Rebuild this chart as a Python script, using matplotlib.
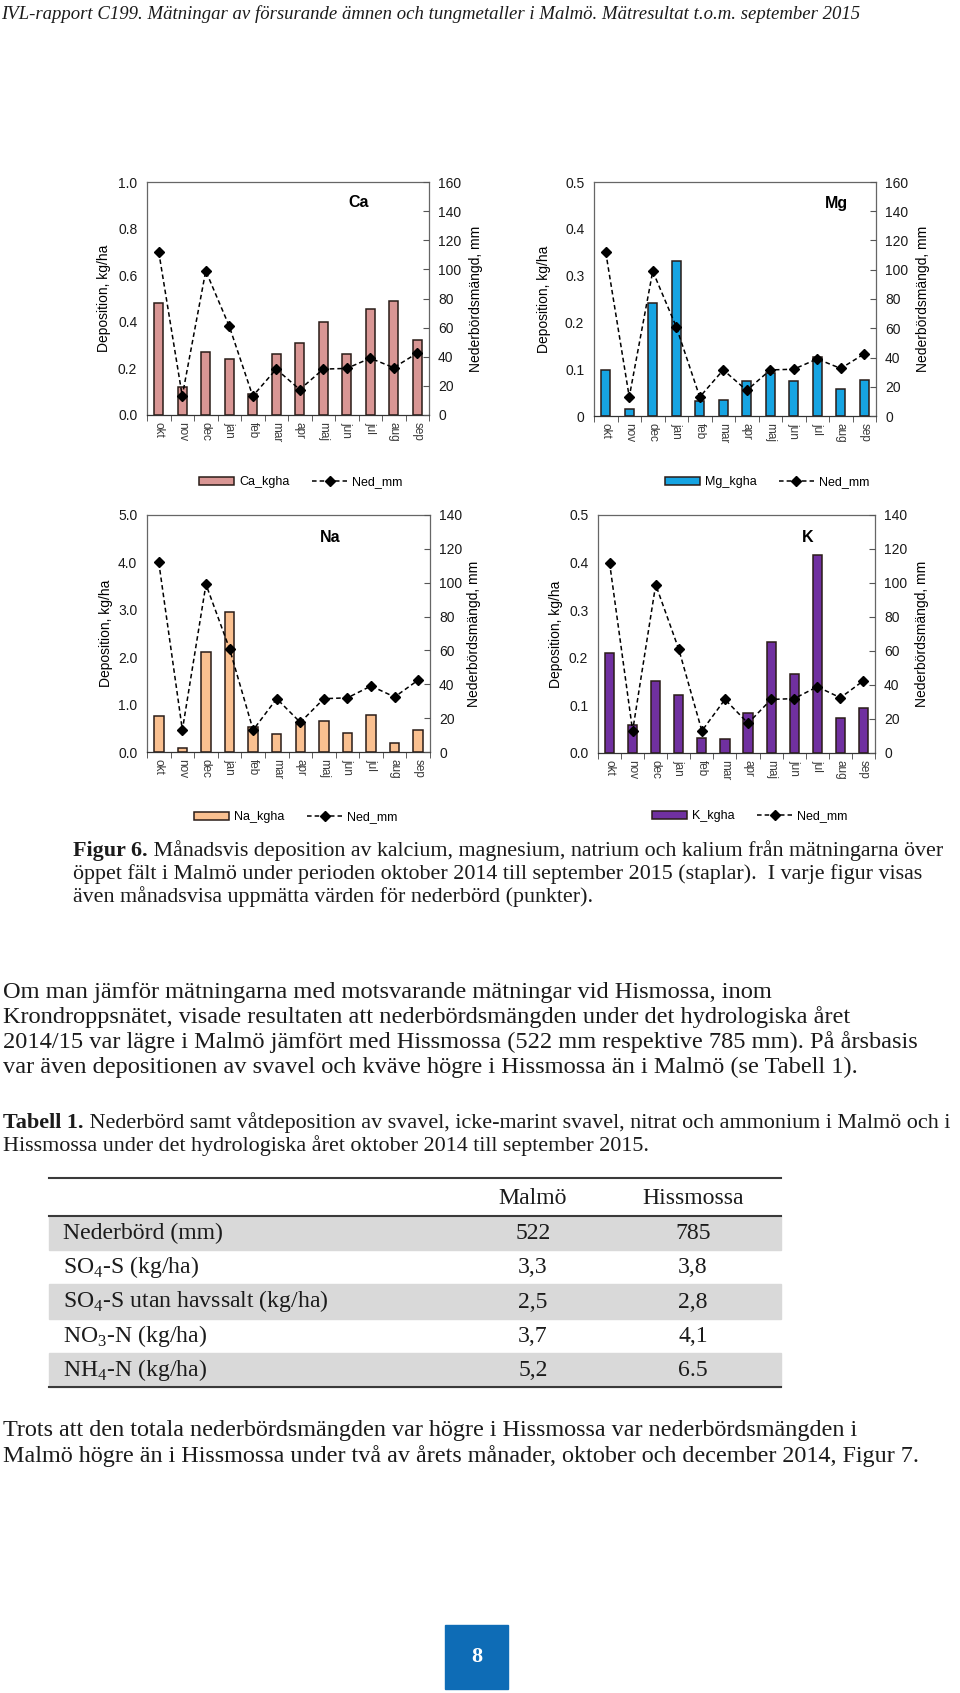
import matplotlib
matplotlib.use("Agg")
import matplotlib.pyplot as plt
from matplotlib.patches import Rectangle
from matplotlib.lines import Line2D
import numpy as np

plt.rcParams['font.family'] = ['Liberation Sans', 'DejaVu Sans']
plt.rcParams['mathtext.fontset'] = 'custom'
plt.rcParams['mathtext.rm'] = 'Liberation Serif'

# Monthly data, okt 2014 - sep 2015
months = ['okt', 'nov', 'dec', 'jan', 'feb', 'mar', 'apr', 'maj', 'jun', 'jul', 'aug', 'sep']
ned_mm = [112, 13, 99, 61, 13, 31.5, 17.5, 31.5, 32, 39, 32.5, 42.5]
ca_kgha = [0.48, 0.12, 0.27, 0.24, 0.09, 0.26, 0.31, 0.40, 0.26, 0.455, 0.49, 0.32]
mg_kgha = [0.098, 0.016, 0.241, 0.331, 0.033, 0.035, 0.075, 0.092, 0.074, 0.127, 0.058, 0.076]
na_kgha = [0.76, 0.08, 2.12, 2.96, 0.52, 0.37, 0.60, 0.65, 0.40, 0.79, 0.20, 0.46]
k_kgha = [0.211, 0.059, 0.151, 0.122, 0.032, 0.029, 0.083, 0.233, 0.166, 0.415, 0.073, 0.094]

# Tabell 1
table_cols = ['Malmö', 'Hissmossa']
table_rows = ['Nederbörd (mm)', 'SO$_4$-S (kg/ha)', 'SO$_4$-S utan havssalt (kg/ha)',
              'NO$_3$-N (kg/ha)', 'NH$_4$-N (kg/ha)']
malmo = ['522', '3,3', '2,5', '3,7', '5,2']
hissmossa = ['785', '3,8', '2,8', '4,1', '6.5']

W, H = 960, 1693
fig = plt.figure(figsize=(W / 100, H / 100), dpi=100)
renderer = fig.canvas.get_renderer()
SERIF = 'Liberation Serif'
INK = '#1b1b1b'
EDGE = '#2a1c18'


def fx(x):
    return x / W


def fy(y):
    return 1 - y / H


def width_at(s, size, **kw):
    t = fig.text(0, 0, s, fontsize=size, family=SERIF, **kw)
    w = t.get_window_extent(renderer).width
    t.remove()
    return w


def fit_size(x0, lines):
    # largest size at which none of the long lines runs past its end in the report
    sizes = []
    for lead, rest, end in lines:
        if end < 840:
            continue
        w = width_at(rest, 20)
        if lead:
            w += width_at(lead, 20, fontweight='bold')
        sizes.append(20 * (end - x0) / w)
    return min(sizes)


def draw_block(x0, y0, step, lines, size):
    for i, (lead, rest, end) in enumerate(lines):
        x = x0
        y = y0 + i * step
        if lead:
            fig.text(fx(x), fy(y), lead, fontsize=size, family=SERIF,
                     fontweight='bold', va='baseline', color=INK)
            x += width_at(lead, size, fontweight='bold')
        fig.text(fx(x), fy(y), rest, fontsize=size, family=SERIF,
                 va='baseline', color=INK)


def chart(box, values, color, name, yticks, yticklabels, ned_max,
          title_xy, ylab_px, y2lab_px, legend_px):
    l, t, r, b = box
    ax = fig.add_axes([fx(l), fy(b), (r - l) / W, (b - t) / H])
    x = np.arange(len(months))
    bars = ax.bar(x, values, 0.4, color=color, edgecolor=EDGE, linewidth=1.1, zorder=2)
    ax.set_xlim(-0.5, len(months) - 0.5)
    ax.set_ylim(yticks[0], yticks[-1])
    ax.set_yticks(yticks)
    ax.set_yticklabels(yticklabels)
    ax.set_xticks(x)
    ax.set_xticklabels(months, rotation=-90, fontsize=8.5, color='#3a3a3a')
    ax.set_xticks(np.arange(-0.5, len(months), 1), minor=True)
    ax.tick_params(axis='x', which='major', length=0, pad=5)
    ax.tick_params(axis='x', which='minor', length=4, direction='out', color='#444444')
    ax.tick_params(axis='y', length=0, pad=7, labelsize=10, labelcolor='#1a1a1a')
    for s in ax.spines.values():
        s.set_color('#666666')
        s.set_linewidth(0.9)
    ax.spines['bottom'].set_color('#333333')
    ax.set_ylabel('Deposition, kg/ha', fontsize=10)
    ax.yaxis.set_label_coords((ylab_px + 8 - l) / (r - l), 0.5)

    ax2 = ax.twinx()
    line, = ax2.plot(x, ned_mm, color='black', linestyle=(0, (3, 2)), linewidth=1.1,
                     marker='D', markersize=5)
    ax2.set_ylim(0, ned_max)
    ax2.set_yticks(np.arange(0, ned_max + 1, 20))
    ax2.tick_params(axis='y', direction='in', length=4, pad=6.5, labelsize=10,
                    color='#555555', labelcolor='#1a1a1a')
    ax2.set_ylabel('Nederbördsmängd, mm', fontsize=10)
    ax2.yaxis.set_label_coords((y2lab_px - 8 - l) / (r - l), 0.5)
    for s in ax2.spines.values():
        s.set_visible(False)

    ax.text(title_xy[0], title_xy[1], name, transform=ax.transAxes, fontsize=11.5,
            fontweight='bold', ha='center', va='center')

    fig.legend([bars, line], [f'{name}_kgha', 'Ned_mm'], loc='center',
               bbox_to_anchor=(fx(legend_px[0]), fy(legend_px[1])), ncol=2,
               frameon=False, fontsize=9, handlelength=2.8, handleheight=0.6,
               handletextpad=0.4, columnspacing=1.8, borderpad=0)
    return ax


chart((147, 182, 429, 415), ca_kgha, '#d99694', 'Ca',
      [0, 0.2, 0.4, 0.6, 0.8, 1.0], ['0.0', '0.2', '0.4', '0.6', '0.8', '1.0'], 160,
      (0.75, 0.914), 103, 477, (301, 482))
chart((594, 182, 876, 416), mg_kgha, '#16a4e2', 'Mg',
      [0, 0.1, 0.2, 0.3, 0.4, 0.5], ['0', '0.1', '0.2', '0.3', '0.4', '0.5'], 160,
      (0.86, 0.91), 543, 924, (767, 482))
chart((147, 515, 430, 752), na_kgha, '#fac090', 'Na',
      [0, 1, 2, 3, 4, 5], ['0.0', '1.0', '2.0', '3.0', '4.0', '5.0'], 140,
      (0.647, 0.907), 105, 475, (296, 817))
chart((598, 515, 875, 753), k_kgha, '#7030a0', 'K',
      [0, 0.1, 0.2, 0.3, 0.4, 0.5], ['0.0', '0.1', '0.2', '0.3', '0.4', '0.5'], 140,
      (0.758, 0.907), 555, 923, (750, 816))

# page header
header = 'IVL-rapport C199. Mätningar av försurande ämnen och tungmetaller i Malmö. Mätresultat t.o.m. september 2015'
hsize = 20 * 858 / width_at(header, 20, style='italic')
fig.text(fx(1), fy(19), header, fontsize=hsize, family=SERIF, style='italic',
         va='baseline', color=INK)

caption = [
    ('Figur 6.', ' Månadsvis deposition av kalcium, magnesium, natrium och kalium från mätningarna över', 956),
    ('', 'öppet fält i Malmö under perioden oktober 2014 till september 2015 (staplar).  I varje figur visas', 924),
    ('', 'även månadsvisa uppmätta värden för nederbörd (punkter).', 592),
]
body = [
    ('', 'Om man jämför mätningarna med motsvarande mätningar vid Hismossa, inom', 785),
    ('', 'Krondroppsnätet, visade resultaten att nederbördsmängden under det hydrologiska året', 934),
    ('', '2014/15 var lägre i Malmö jämfört med Hissmossa (522 mm respektive 785 mm). På årsbasis', 920),
    ('', 'var även depositionen av svavel och kväve högre i Hissmossa än i Malmö (se Tabell 1).', 876),
]
tabell = [
    ('Tabell 1.', ' Nederbörd samt våtdeposition av svavel, icke-marint svavel, nitrat och ammonium i Malmö och i', 951),
    ('', 'Hissmossa under det hydrologiska året oktober 2014 till september 2015.', 652),
]
trots = [
    ('', 'Trots att den totala nederbördsmängden var högre i Hissmossa var nederbördsmängden i', 857),
    ('', 'Malmö högre än i Hissmossa under två av årets månader, oktober och december 2014, Figur 7.', 932),
]

draw_block(73, 856, 23, caption, fit_size(73, caption))
body_size = fit_size(3, body)
draw_block(3, 998, 25, body, body_size)
draw_block(3, 1128, 23.5, tabell, fit_size(3, tabell))
draw_block(3, 1436, 26, trots, fit_size(3, trots))

# Tabell 1
tsize = body_size * 0.97
tx0, tx1 = 49, 781
row_top = 1216
row_h = 34.2
for i, (lab, m, h) in enumerate(zip(table_rows, malmo, hissmossa)):
    top = row_top + i * row_h
    if i % 2 == 0:
        fig.add_artist(Rectangle((fx(tx0), fy(top + row_h)), (tx1 - tx0) / W, row_h / H,
                                 transform=fig.transFigure, color='#d9d9d9', zorder=0))
    yb = top + row_h / 2 + 6
    fig.text(fx(63), fy(yb), lab, fontsize=tsize, family=SERIF, va='baseline', color=INK)
    fig.text(fx(533), fy(yb), m, fontsize=tsize, family=SERIF, va='baseline', ha='center', color=INK)
    fig.text(fx(693), fy(yb), h, fontsize=tsize, family=SERIF, va='baseline', ha='center', color=INK)
for cx, col in zip([533, 693], table_cols):
    fig.text(fx(cx), fy(1204), col, fontsize=tsize, family=SERIF, va='baseline', ha='center', color=INK)
for y in [1178, row_top, row_top + 5 * row_h]:
    fig.add_artist(Line2D([fx(tx0), fx(tx1)], [fy(y), fy(y)], transform=fig.transFigure,
                          color='#3a3a3a', linewidth=1.5))

# page number
fig.add_artist(Rectangle((fx(445), fy(1689)), 63 / W, 64 / H, transform=fig.transFigure,
                         color='#0e6cb6'))
fig.text(fx(477), fy(1657), '8', fontsize=16, family=SERIF, fontweight='bold',
         color='white', ha='center', va='center')

fig.savefig('out.png', dpi=100)
